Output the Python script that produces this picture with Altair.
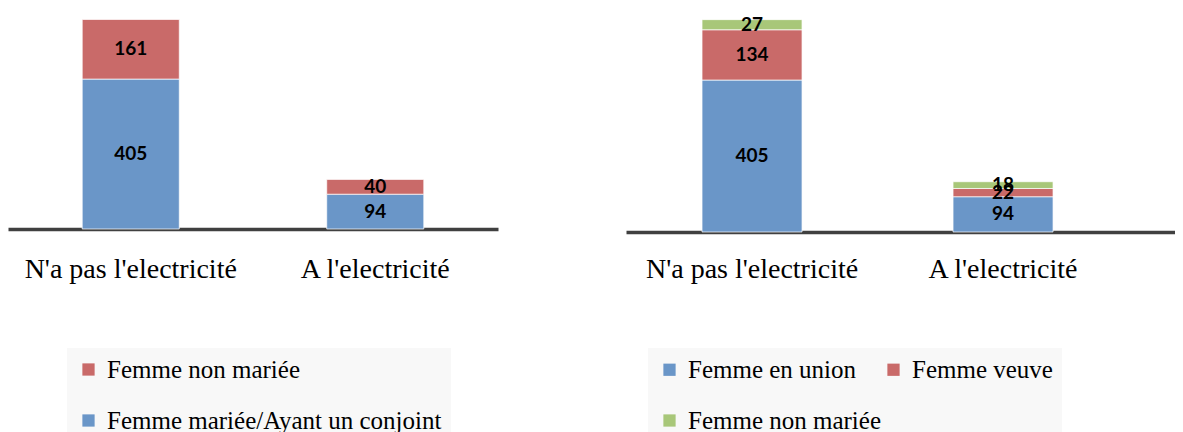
import altair as alt
import pandas as pd

categories = ["N'a pas l'electricité", "A l'electricité"]

# Left panel
left_married = [405, 94]
left_unmarried = [161, 40]
left_series = ["Femme mariée/Ayant un conjoint", "Femme non mariée"]
left_legend_order = ["Femme non mariée", "Femme mariée/Ayant un conjoint"]
left_colors = ["#C96A69", "#6A96C8"]

# Right panel
right_union = [405, 94]
right_widow = [134, 22]
right_unmarried = [27, 18]
right_series = ["Femme en union", "Femme veuve", "Femme non mariée"]
right_colors = ["#6A96C8", "#C96A69", "#A8C779"]


def build_df(series_names, series_values):
    rows = []
    for order, (name, vals) in enumerate(zip(series_names, series_values)):
        for cat, v in zip(categories, vals):
            rows.append({"cat": cat, "series": name, "value": v, "order": order})
    return pd.DataFrame(rows)


left_df = build_df(left_series, [left_married, left_unmarried])
right_df = build_df(right_series, [right_union, right_widow, right_unmarried])


def panel(df, legend_domain, legend_colors, width, height, pi, po, align,
          label_pad, legend_x, legend_y, columns, col_pad):
    base = alt.Chart(df).transform_stack(
        stack="value", groupby=["cat"], as_=["y0", "y1"],
        sort=[alt.SortField(field="order", order="ascending")]
    ).transform_calculate(mid="(datum.y0 + datum.y1) / 2")

    x_scale = alt.Scale(paddingInner=pi, paddingOuter=po, align=align)
    y_scale = alt.Scale(domain=[0, 597], nice=False, zero=True)
    x_axis = alt.Axis(title=None, labelAngle=0, ticks=False, grid=False,
                      domainColor="#404040", domainWidth=3.5,
                      labelFont="Liberation Serif", labelFontSize=28,
                      labelColor="black", labelPadding=label_pad, labelLimit=500)

    bars = base.mark_bar(stroke="white", strokeWidth=1, strokeOpacity=0.7).encode(
        x=alt.X("cat:N", sort=categories, scale=x_scale, axis=x_axis),
        y=alt.Y("y0:Q", scale=y_scale, axis=None),
        y2="y1:Q",
        color=alt.Color(
            "series:N",
            scale=alt.Scale(domain=legend_domain, range=legend_colors),
            legend=alt.Legend(
                title=None, orient="none", legendX=legend_x, legendY=legend_y,
                direction="horizontal",
                columns=columns, fillColor="#F8F8F8", padding=9,
                symbolType="square", symbolSize=150, symbolStrokeWidth=0,
                labelFont="Liberation Serif", labelFontSize=25,
                labelColor="black", labelOffset=6, rowPadding=25,
                columnPadding=col_pad, labelLimit=600, gridAlign="each",
            ),
        ),
    )
    texts = base.mark_text(font="Lato", fontWeight="bold", fontSize=19,
                           color="black").encode(
        x=alt.X("cat:N", sort=categories, scale=x_scale, axis=x_axis),
        y=alt.Y("mid:Q", scale=y_scale, axis=None),
        text="value:Q",
    )
    return alt.layer(bars, texts).properties(width=width, height=height)


left = panel(left_df, left_legend_order, left_colors, 490, 221,
             0.603, 0.3035, 0.5, 26, 59, 340, 1, 19)
right = panel(right_df, right_series, right_colors, 549, 224,
              0.6016, 0.3944, 0.384, 23, 22, 340, 2, -7)

chart = alt.hconcat(left, right, spacing=128).resolve_scale(
    color="independent", x="independent", y="independent"
).resolve_legend(color="independent").configure_view(stroke=None).properties(padding=0)

chart.save("out.html", embed_options={"renderer": "svg", "actions": False})
